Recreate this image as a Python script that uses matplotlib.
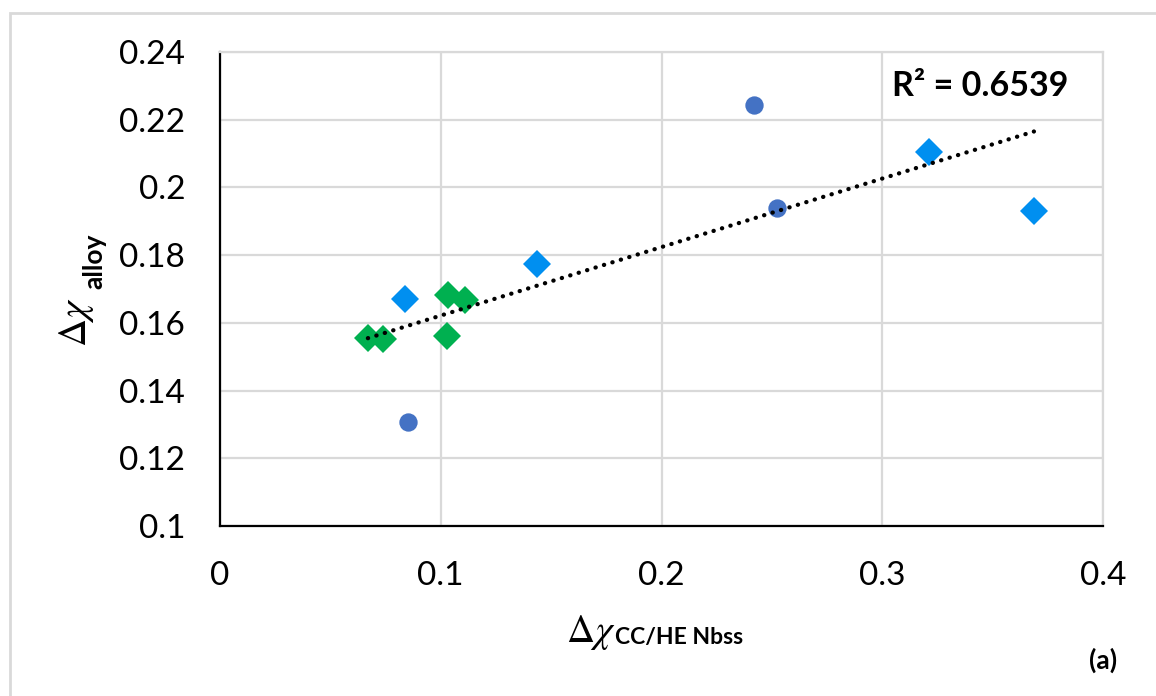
import numpy as np
import matplotlib.pyplot as plt
from matplotlib.patches import Rectangle

# scatter groups: delta chi (CC/HE Nbss) vs delta chi (alloy)
circ_x = [0.2419, 0.2523, 0.0852]
circ_y = [0.2243, 0.1939, 0.1307]

blue_x = [0.3212, 0.3687, 0.1436, 0.0838]
blue_y = [0.2105, 0.1930, 0.1774, 0.1670]

green_x = [0.0670, 0.0738, 0.1033, 0.1110, 0.1028]
green_y = [0.1555, 0.1552, 0.1682, 0.1667, 0.1561]

x_ticks = [0, 0.1, 0.2, 0.3, 0.4]
x_labels = ['0', '0.1', '0.2', '0.3', '0.4']
y_ticks = [0.1, 0.12, 0.14, 0.16, 0.18, 0.2, 0.22, 0.24]
y_labels = ['0.1', '0.12', '0.14', '0.16', '0.18', '0.2', '0.22', '0.24']
r2_text = 'R² = 0.6539'

plt.rcParams['font.family'] = ['Lato', 'DejaVu Sans']
plt.rcParams['mathtext.fontset'] = 'stix'

W, H = 1156, 696
fig = plt.figure(figsize=(W / 100, H / 100), dpi=100)
fig.patch.set_facecolor('white')

# light grey chart-area frame
fig.patches.append(Rectangle((10 / W, -0.1), 1.2, (H - 13) / H + 0.1,
                             transform=fig.transFigure, fill=False,
                             edgecolor='#d9d9d9', linewidth=2))

ax = fig.add_axes([220 / W, 1 - 526 / H, (1103 - 220) / W, (526 - 52) / H])
ax.set_xlim(0, 0.4)
ax.set_ylim(0.1, 0.24)
ax.set_xticks(x_ticks)
ax.set_xticklabels(x_labels)
ax.set_yticks(y_ticks)
ax.set_yticklabels(y_labels)
ax.tick_params(length=0, labelsize=24, pad=25, colors='black')
ax.grid(True, color='#d9d9d9', linewidth=1.6)
ax.set_axisbelow(True)
for side in ['top', 'right']:
    ax.spines[side].set_color('#d9d9d9')
    ax.spines[side].set_linewidth(1.6)
for side in ['left', 'bottom']:
    ax.spines[side].set_color('black')
    ax.spines[side].set_linewidth(1.6)

# linear trendline over all points
all_x = np.array(circ_x + blue_x + green_x)
all_y = np.array(circ_y + blue_y + green_y)
k, b = np.polyfit(all_x, all_y, 1)
tx = np.array([all_x.min(), all_x.max()])
ax.plot(tx, k * tx + b, color='black', linewidth=3.1,
        linestyle=(0, (0.05, 2.0)), dash_capstyle='round', zorder=4)

ax.plot(circ_x, circ_y, linestyle='None', marker='o', markersize=13.2,
        color='#4472c4', markeredgewidth=0, zorder=3)
ax.plot(blue_x, blue_y, linestyle='None', marker='D', markersize=14,
        color='#008ff0', markeredgewidth=0, zorder=3)
ax.plot(green_x, green_y, linestyle='None', marker='D', markersize=14,
        color='#00b050', markeredgewidth=0, zorder=3)

fig.text(892 / W, 1 - 96 / H, r2_text, fontsize=24.5, fontweight='bold',
         ha='left', va='baseline')

# axis titles: Greek symbols plus bold subscripts
fig.text(566 / W, 1 - 642 / H, r'$\Delta\chi$', fontsize=28,
         ha='left', va='baseline')
fig.text(615 / W, 1 - 644 / H, 'CC/HE Nbss', fontsize=16.5, fontweight='bold',
         ha='left', va='baseline')

fig.text(86 / W, 1 - 347 / H, r'$\Delta\chi$', fontsize=28,
         rotation=90, rotation_mode='anchor', ha='left', va='baseline')
fig.text(102 / W, 1 - 289 / H, 'alloy', fontsize=19, fontweight='bold',
         rotation=90, rotation_mode='anchor', ha='left', va='baseline')

fig.text(1103 / W, 1 - 660 / H, '(a)', fontsize=19, fontweight='bold',
         ha='center', va='center')

fig.savefig('out.png', dpi=100)
